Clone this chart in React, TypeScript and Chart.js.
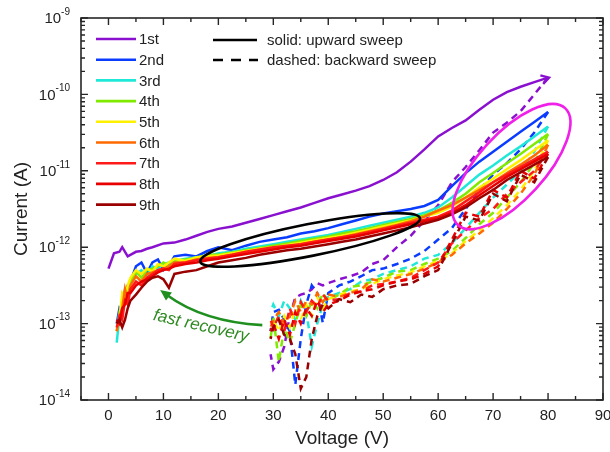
import React, { useEffect, useRef } from 'react';
import { Chart, registerables } from 'chart.js';

Chart.register(...registerables);

// ---------- data (currents given as log10(I / A)) ----------
const seriesNames = ['1st', '2nd', '3rd', '4th', '5th', '6th', '7th', '8th', '9th'];
const seriesColors = ['#8a10d0', '#0a3cff', '#20e8d8', '#80ea00', '#fff000', '#ff6a00', '#ff1a1a', '#e80000', '#9a0000'];

const xTickValues = [0, 10, 20, 30, 40, 50, 60, 70, 80, 90];
const yTickExponents = [-9, -10, -11, -12, -13, -14];

// 1st sweep (upward) has its own voltage grid
const purpleUpV = [0, 1, 2, 2.5, 3.5, 5, 6, 7, 8, 10, 12, 14, 16, 18, 20, 22.5, 25, 27.5, 30, 32.5, 35, 37.5, 40, 42.5, 45, 47.5, 50, 52.5, 55, 57.5, 60, 62.5, 65, 67.5, 70, 72.5, 75, 77.5, 80];
const upLog1st = [-12.28, -12.08, -12.06, -12.0, -12.12, -12.06, -12.05, -12.02, -12.0, -11.95, -11.94, -11.9, -11.85, -11.8, -11.76, -11.73, -11.68, -11.63, -11.58, -11.53, -11.48, -11.42, -11.36, -11.31, -11.26, -11.2, -11.12, -11.02, -10.88, -10.72, -10.55, -10.44, -10.34, -10.2, -10.07, -9.97, -9.9, -9.84, -9.78];

// upward sweeps 2nd..9th
const upV = [1.5, 2, 2.5, 3, 3.5, 4, 5, 6, 7, 8, 9, 10, 11, 12, 14, 16, 18, 20, 22.5, 25, 27.5, 30, 32.5, 35, 37.5, 40, 42.5, 45, 47.5, 50, 52.5, 55, 57.5, 60, 62.5, 65, 67.5, 70, 72.5, 75, 77.5, 80];
const upLog2nd = [-13.0, -12.8, -12.85, -12.6, -12.5, -12.45, -12.25, -12.2, -12.34, -12.2, -12.16, -12.3, -12.24, -12.12, -12.1, -12.12, -12.05, -12.0, -12.04, -11.98, -11.93, -11.9, -11.87, -11.82, -11.79, -11.75, -11.7, -11.65, -11.6, -11.56, -11.53, -11.5, -11.46, -11.38, -11.2, -11.03, -10.88, -10.75, -10.62, -10.49, -10.36, -10.23];
const upLog3rd = [-13.25, -12.9, -12.75, -12.65, -12.55, -12.42, -12.35, -12.3, -12.38, -12.25, -12.28, -12.22, -12.2, -12.18, -12.15, -12.13, -12.12, -12.08, -12.06, -12.02, -11.99, -11.96, -11.93, -11.9, -11.87, -11.84, -11.8, -11.76, -11.72, -11.68, -11.64, -11.6, -11.55, -11.48, -11.35, -11.2, -11.05, -10.93, -10.8, -10.68, -10.55, -10.42];
const upLog4th = [-13.1, -12.85, -12.7, -12.55, -12.62, -12.45, -12.32, -12.4, -12.3, -12.28, -12.25, -12.2, -12.25, -12.18, -12.16, -12.14, -12.1, -12.1, -12.07, -12.04, -12.01, -11.98, -11.95, -11.92, -11.89, -11.86, -11.82, -11.79, -11.75, -11.71, -11.67, -11.63, -11.58, -11.52, -11.42, -11.3, -11.15, -11.03, -10.9, -10.78, -10.65, -10.52];
const upLog5th = [-13.05, -12.95, -12.6, -12.65, -12.5, -12.4, -12.3, -12.35, -12.28, -12.32, -12.22, -12.25, -12.2, -12.15, -12.18, -12.13, -12.12, -12.11, -12.08, -12.05, -12.02, -12.0, -11.97, -11.94, -11.91, -11.88, -11.85, -11.81, -11.77, -11.73, -11.69, -11.65, -11.6, -11.55, -11.47, -11.35, -11.22, -11.1, -10.98, -10.86, -10.73, -10.6];
const upLog6th = [-13.1, -12.9, -12.8, -12.55, -12.7, -12.5, -12.38, -12.45, -12.35, -12.33, -12.3, -12.28, -12.25, -12.2, -12.2, -12.16, -12.14, -12.13, -12.1, -12.07, -12.04, -12.02, -11.99, -11.96, -11.93, -11.9, -11.87, -11.83, -11.79, -11.75, -11.71, -11.66, -11.6, -11.52, -11.45, -11.35, -11.25, -11.15, -11.03, -10.92, -10.8, -10.66];
const upLog7th = [-13.05, -12.9, -12.95, -12.7, -12.75, -12.55, -12.45, -12.5, -12.4, -12.35, -12.3, -12.28, -12.3, -12.22, -12.2, -12.17, -12.15, -12.13, -12.1, -12.06, -12.03, -12.0, -11.98, -11.96, -11.93, -11.9, -11.87, -11.84, -11.8, -11.76, -11.72, -11.68, -11.64, -11.6, -11.52, -11.4, -11.28, -11.15, -11.05, -10.95, -10.85, -10.75];
const upLog8th = [-12.95, -13.0, -12.8, -12.75, -12.6, -12.6, -12.5, -12.45, -12.42, -12.38, -12.33, -12.3, -12.28, -12.25, -12.22, -12.2, -12.17, -12.15, -12.12, -12.09, -12.06, -12.03, -12.0, -11.98, -11.95, -11.92, -11.89, -11.86, -11.82, -11.78, -11.74, -11.7, -11.66, -11.62, -11.55, -11.45, -11.32, -11.2, -11.08, -10.98, -10.88, -10.78];
const upLog9th = [-13.0, -12.95, -13.05, -12.95, -12.8, -12.7, -12.62, -12.53, -12.45, -12.4, -12.38, -12.42, -12.53, -12.35, -12.32, -12.3, -12.25, -12.2, -12.17, -12.14, -12.1, -12.07, -12.04, -12.02, -11.99, -11.96, -11.93, -11.9, -11.86, -11.82, -11.78, -11.74, -11.69, -11.64, -11.57, -11.48, -11.36, -11.25, -11.12, -11.02, -10.92, -10.82];

// backward sweeps (80 V -> ~30 V)
const downV = [80, 77.5, 75, 72.5, 70, 67.5, 65, 62.5, 60, 57.5, 55, 52.5, 50, 48, 46, 44, 42, 40, 39, 38, 37, 36, 35, 34, 33, 32, 31, 30, 29.5];
const downLog1st = [-9.78, -10.0, -10.22, -10.37, -10.5, -10.73, -10.95, -11.15, -11.45, -11.65, -11.85, -12.0, -12.17, -12.22, -12.33, -12.38, -12.42, -12.47, -12.5, -12.47, -12.55, -12.6, -12.62, -12.66, -12.9, -13.3, -13.5, -13.6, -13.4];
const downLog2nd = [-10.23, -10.5, -10.72, -10.9, -11.05, -11.25, -11.5, -11.75, -11.9, -12.05, -12.15, -12.22, -12.28, -12.3, -12.38, -12.45, -12.5, -12.6, -12.99, -12.6, -12.5, -12.75, -13.2, -13.8, -13.1, -12.95, -12.82, -12.85, -13.1];
const downLog3rd = [-10.42, -10.75, -11.0, -11.18, -11.35, -11.55, -11.75, -11.95, -12.1, -12.15, -12.25, -12.3, -12.35, -12.42, -12.45, -12.55, -12.6, -12.65, -12.75, -13.0, -13.3, -12.85, -12.7, -12.95, -12.8, -12.7, -12.9, -12.75, -12.85];
const downLog4th = [-10.52, -10.9, -11.15, -11.35, -11.55, -11.7, -11.88, -12.05, -12.15, -12.22, -12.3, -12.32, -12.4, -12.45, -12.5, -12.52, -12.62, -12.7, -12.6, -12.8, -12.7, -12.9, -12.75, -13.0, -13.25, -13.05, -13.5, -12.9, -13.2];
const downLog5th = [-10.6, -11.0, -11.25, -11.45, -11.62, -11.78, -11.92, -12.08, -12.18, -12.25, -12.33, -12.37, -12.42, -12.48, -12.55, -12.58, -12.62, -12.68, -12.8, -12.65, -12.9, -12.75, -12.95, -12.8, -13.05, -12.9, -13.1, -12.95, -13.0];
const downLog6th = [-10.66, -11.05, -11.3, -11.5, -11.68, -11.82, -11.95, -12.1, -12.2, -12.28, -12.35, -12.4, -12.45, -12.42, -12.55, -12.6, -12.65, -12.62, -12.72, -12.6, -12.75, -12.7, -12.85, -12.7, -12.9, -13.0, -12.85, -12.95, -13.05];
const downLog7th = [-10.75, -11.0, -11.15, -11.3, -11.5, -11.62, -11.78, -11.95, -12.2, -12.3, -12.4, -12.45, -12.48, -12.5, -12.58, -12.6, -12.68, -12.7, -12.62, -12.78, -12.7, -12.85, -12.72, -13.0, -12.8, -13.1, -12.9, -13.05, -12.95];
const downLog8th = [-10.78, -11.1, -11.0, -11.35, -11.25, -11.6, -11.55, -11.9, -12.25, -12.35, -12.42, -12.45, -12.5, -12.55, -12.58, -12.62, -12.7, -12.75, -12.85, -12.7, -12.9, -12.8, -13.0, -12.85, -13.15, -12.95, -13.2, -13.0, -13.1];
const downLog9th = [-10.82, -11.15, -11.05, -11.4, -11.3, -11.65, -11.6, -11.95, -12.3, -12.38, -12.48, -12.5, -12.55, -12.65, -12.62, -12.72, -12.68, -12.8, -12.75, -12.9, -13.2, -13.7, -13.85, -13.4, -13.2, -13.15, -12.95, -13.05, -13.2];

const upLogs = [upLog1st, upLog2nd, upLog3rd, upLog4th, upLog5th, upLog6th, upLog7th, upLog8th, upLog9th];
const downLogs = [downLog1st, downLog2nd, downLog3rd, downLog4th, downLog5th, downLog6th, downLog7th, downLog8th, downLog9th];

// annotation anchors in data units [V, log10 I]
const blackEllipseEnds = [[16.7, -12.19], [56.7, -11.62]];
const magentaEllipseEnds = [[63.6, -11.71], [83.1, -10.18]];
const recoveryArrow = { tail: [28, -13.02], head: [9.4, -12.56] };
const recoveryTextAnchor = [8.0, -12.95];

const FONT = "'Liberation Sans', Arial, Helvetica, sans-serif";

const decorPlugin = {
  id: 'decor',
  afterDraw(chart: any) {
    const ctx: CanvasRenderingContext2D = chart.ctx;
    const xs = chart.scales.x;
    const ys = chart.scales.y;
    const { left, right, top, bottom } = chart.chartArea;
    const px = (v: number) => xs.getPixelForValue(v);
    const py = (l: number) => ys.getPixelForValue(Math.pow(10, l));
    ctx.save();

    // frame
    ctx.strokeStyle = '#262626';
    ctx.lineWidth = 1.6;
    ctx.strokeRect(left, top, right - left, bottom - top);

    // x ticks (inward, bottom and top)
    ctx.lineWidth = 1.4;
    for (let v = -5; v <= 90; v += 5) {
      const x = px(v);
      const len = v % 10 === 0 ? 7 : 4;
      ctx.beginPath();
      ctx.moveTo(x, bottom); ctx.lineTo(x, bottom - len);
      ctx.moveTo(x, top); ctx.lineTo(x, top + len);
      ctx.stroke();
    }
    // y ticks (log, inward, left and right)
    for (let e = -14; e <= -9; e++) {
      for (let m = 1; m <= 9; m++) {
        if (e === -9 && m > 1) break;
        const y = ys.getPixelForValue(m * Math.pow(10, e));
        const len = m === 1 ? 7 : 4;
        ctx.beginPath();
        ctx.moveTo(left, y); ctx.lineTo(left + len, y);
        ctx.moveTo(right, y); ctx.lineTo(right - len, y);
        ctx.stroke();
      }
    }

    // tick labels
    ctx.fillStyle = '#222';
    ctx.textBaseline = 'middle';
    ctx.textAlign = 'center';
    ctx.font = `15px ${FONT}`;
    for (const v of xTickValues) ctx.fillText(String(v), px(v), bottom + 16);
    ctx.textAlign = 'left';
    for (const e of yTickExponents) {
      const y = ys.getPixelForValue(Math.pow(10, e));
      ctx.font = `15px ${FONT}`;
      const w1 = ctx.measureText('10').width;
      ctx.font = `10px ${FONT}`;
      const w2 = ctx.measureText(String(e)).width;
      const x0 = 70 - w1 - w2;
      ctx.font = `15px ${FONT}`;
      ctx.fillText('10', x0, y + 1);
      ctx.font = `10px ${FONT}`;
      ctx.fillText(String(e), x0 + w1, y - 6);
    }

    // axis titles
    ctx.font = `19px ${FONT}`;
    ctx.textAlign = 'center';
    ctx.fillText('Voltage (V)', (left + right) / 2, 439);
    ctx.save();
    ctx.translate(22, (top + bottom) / 2);
    ctx.rotate(-Math.PI / 2);
    ctx.fillText('Current (A)', 0, 0);
    ctx.restore();

    // series legend
    ctx.textAlign = 'left';
    ctx.font = `15px ${FONT}`;
    seriesNames.forEach((name, i) => {
      const y = 39 + i * 20.7;
      ctx.strokeStyle = seriesColors[i];
      ctx.lineWidth = 2.6;
      ctx.beginPath(); ctx.moveTo(96, y); ctx.lineTo(136, y); ctx.stroke();
      ctx.fillStyle = '#222';
      ctx.fillText(name, 139, y + 1);
    });

    // style legend
    ctx.strokeStyle = '#000';
    ctx.lineWidth = 2.6;
    ctx.beginPath(); ctx.moveTo(213, 40); ctx.lineTo(257, 40); ctx.stroke();
    ctx.setLineDash([10, 8]);
    ctx.beginPath(); ctx.moveTo(213, 60); ctx.lineTo(258, 60); ctx.stroke();
    ctx.setLineDash([]);
    ctx.fillStyle = '#222';
    ctx.fillText('solid: upward sweep', 267, 41);
    ctx.fillText('dashed: backward sweep', 267, 61);

    // ellipses
    const drawEllipse = (ends: number[][], ry: number, color: string) => {
      const x1 = px(ends[0][0]), y1 = py(ends[0][1]);
      const x2 = px(ends[1][0]), y2 = py(ends[1][1]);
      const cx = (x1 + x2) / 2, cy = (y1 + y2) / 2;
      const rx = Math.hypot(x2 - x1, y2 - y1) / 2;
      const ang = Math.atan2(y2 - y1, x2 - x1);
      ctx.strokeStyle = color;
      ctx.lineWidth = 2.6;
      ctx.beginPath();
      ctx.ellipse(cx, cy, rx, ry, ang, 0, Math.PI * 2);
      ctx.stroke();
    };
    drawEllipse(blackEllipseEnds, 16, '#000');
    drawEllipse(magentaEllipseEnds, 33, '#f020e8');

    // purple arrow head at end of 1st upward sweep
    {
      const n = purpleUpV.length;
      const xa = px(purpleUpV[n - 1]), ya = py(upLog1st[n - 1]);
      const xb = px(purpleUpV[n - 2]), yb = py(upLog1st[n - 2]);
      const a = Math.atan2(ya - yb, xa - xb);
      ctx.strokeStyle = seriesColors[0];
      ctx.lineWidth = 2.4;
      ctx.beginPath();
      ctx.moveTo(xa - 8 * Math.cos(a - 0.6), ya - 8 * Math.sin(a - 0.6));
      ctx.lineTo(xa + 1, ya);
      ctx.lineTo(xa - 8 * Math.cos(a + 0.6), ya - 8 * Math.sin(a + 0.6));
      ctx.stroke();
    }

    // fast recovery arrow
    {
      const t = [px(recoveryArrow.tail[0]), py(recoveryArrow.tail[1])];
      const h = [px(recoveryArrow.head[0]), py(recoveryArrow.head[1])];
      const mid = [t[0] + (h[0] - t[0]) * 0.55, t[1] + (h[1] - t[1]) * 0.55];
      const c = [mid[0] - 3, mid[1] + 16];
      ctx.strokeStyle = '#1f8f1f';
      ctx.fillStyle = '#1f8f1f';
      ctx.lineWidth = 2.6;
      const a = Math.atan2(h[1] - c[1], h[0] - c[0]);
      const hb = [h[0] - 8 * Math.cos(a), h[1] - 8 * Math.sin(a)];
      ctx.beginPath();
      ctx.moveTo(t[0], t[1]);
      ctx.quadraticCurveTo(c[0], c[1], hb[0], hb[1]);
      ctx.stroke();
      ctx.beginPath();
      ctx.moveTo(h[0], h[1]);
      ctx.lineTo(h[0] - 11 * Math.cos(a) + 5 * Math.sin(a), h[1] - 11 * Math.sin(a) - 5 * Math.cos(a));
      ctx.lineTo(h[0] - 11 * Math.cos(a) - 5 * Math.sin(a), h[1] - 11 * Math.sin(a) + 5 * Math.cos(a));
      ctx.closePath();
      ctx.fill();

      ctx.save();
      ctx.translate(px(recoveryTextAnchor[0]), py(recoveryTextAnchor[1]));
      ctx.rotate((13 * Math.PI) / 180);
      ctx.font = `italic 17px ${FONT}`;
      ctx.fillStyle = '#2f8a22';
      ctx.textAlign = 'left';
      ctx.textBaseline = 'alphabetic';
      ctx.fillText('fast recovery', 0, 0);
      ctx.restore();
    }

    ctx.restore();
  },
};

export default function App() {
  const canvasRef = useRef<HTMLCanvasElement | null>(null);

  useEffect(() => {
    const canvas = canvasRef.current;
    if (!canvas) return;
    const datasets: any[] = [];
    seriesNames.forEach((name, i) => {
      const xsUp = i === 0 ? purpleUpV : upV;
      datasets.push({
        label: `${name} up`,
        data: xsUp.map((v, k) => ({ x: v, y: Math.pow(10, upLogs[i][k]) })),
        borderColor: seriesColors[i],
        borderWidth: 2.5,
        pointRadius: 0,
        fill: false,
        tension: 0,
        order: 20 - 2 * i,
      });
      datasets.push({
        label: `${name} down`,
        data: downV.map((v, k) => ({ x: v, y: Math.pow(10, downLogs[i][k]) })),
        borderColor: seriesColors[i],
        borderWidth: 2.5,
        borderDash: [7, 5],
        pointRadius: 0,
        fill: false,
        tension: 0,
        order: 21 - 2 * i,
      });
    });

    const chart = new Chart(canvas, {
      type: 'line',
      data: { datasets },
      options: {
        animation: false,
        responsive: false,
        devicePixelRatio: 1,
        layout: { padding: { top: 18, right: 7, left: 0, bottom: 0 } },
        plugins: { legend: { display: false }, tooltip: { enabled: false } },
        scales: {
          x: {
            type: 'linear',
            min: -5,
            max: 90,
            grid: { display: false },
            border: { display: false },
            ticks: { display: false },
            afterFit: (s: any) => { s.height = 52; },
          },
          y: {
            type: 'logarithmic',
            min: 1e-14,
            max: 1e-9,
            grid: { display: false },
            border: { display: false },
            ticks: { display: false },
            afterFit: (s: any) => { s.width = 81; },
          },
        },
      } as any,
      plugins: [decorPlugin],
    });
    return () => chart.destroy();
  }, []);

  return (
    <div style={{ position: 'fixed', left: 0, top: 0, width: 610, height: 452, background: '#fff' }}>
      <canvas ref={canvasRef} width={610} height={452} />
    </div>
  );
}
